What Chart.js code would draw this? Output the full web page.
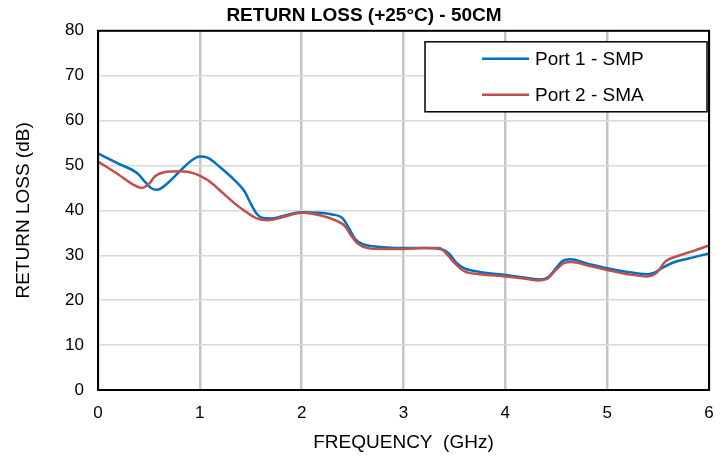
<!DOCTYPE html>
<html>
<head>
<meta charset="utf-8">
<script src="https://cdn.jsdelivr.net/npm/chart.js@4/dist/chart.umd.min.js"></script>
<style>
  html, body { margin: 0; padding: 0; background: #fff; }
  #wrap { width: 728px; height: 464px; }
</style>
</head>
<body>
<div id="wrap"><canvas id="rl"></canvas></div>
<script>
const xTicks = [0, 1, 2, 3, 4, 5, 6];
const yTicks = [0, 10, 20, 30, 40, 50, 60, 70, 80];

const port1Freq = [0, 0.2, 0.39, 0.46, 0.52, 0.58, 0.68, 0.79, 0.9, 1.0, 1.08, 1.2, 1.35, 1.44, 1.5, 1.56, 1.62, 1.7, 1.81, 2.0, 2.15, 2.3, 2.4, 2.47, 2.53, 2.6, 2.7, 3.0, 3.2, 3.38, 3.45, 3.52, 3.6, 3.75, 4.0, 4.2, 4.34, 4.42, 4.5, 4.56, 4.64, 4.8, 5.0, 5.2, 5.39, 5.47, 5.55, 5.65, 5.8, 6.0];
const port1RL = [52.7, 50.4, 48.2, 46.4, 45.0, 44.6, 46.0, 48.4, 50.8, 52.0, 51.7, 49.6, 46.5, 44.2, 41.5, 39.2, 38.3, 38.2, 38.7, 39.6, 39.5, 39.1, 38.3, 35.8, 33.5, 32.5, 32.0, 31.6, 31.6, 31.3, 30.3, 28.3, 27.1, 26.3, 25.6, 25.0, 24.6, 25.1, 27.2, 28.7, 29.1, 28.2, 27.1, 26.3, 25.8, 26.2, 27.3, 28.4, 29.3, 30.4];

const port2Freq = [0, 0.2, 0.35, 0.43, 0.5, 0.56, 0.65, 0.8, 0.95, 1.08, 1.23, 1.35, 1.44, 1.55, 1.67, 1.8, 2.0, 2.2, 2.35, 2.42, 2.48, 2.55, 2.65, 2.8, 3.0, 3.2, 3.35, 3.42, 3.5, 3.6, 3.75, 4.0, 4.2, 4.32, 4.42, 4.5, 4.58, 4.65, 4.8, 5.0, 5.2, 5.39, 5.49, 5.57, 5.7, 5.85, 6.0];
const port2RL = [50.9, 48.0, 45.7, 45.0, 45.9, 47.6, 48.5, 48.7, 48.2, 46.7, 43.8, 41.4, 39.9, 38.3, 37.8, 38.4, 39.5, 38.8, 37.6, 36.6, 34.6, 32.6, 31.6, 31.4, 31.4, 31.6, 31.6, 30.4, 28.3, 26.4, 25.8, 25.3, 24.8, 24.4, 24.9, 26.8, 28.3, 28.5, 27.8, 26.7, 25.8, 25.3, 26.2, 28.6, 29.9, 31.0, 32.2];

const seriesNames = ['Port 1 - SMP', 'Port 2 - SMA'];
const seriesColors = ['#0070c0', '#c0504d'];

const FONT = '"Liberation Sans", Arial, sans-serif';

function pts(xs, ys) {
    return xs.map((x, i) => ({ x: x, y: ys[i] }));
}

// frame round the plot area plus the boxed legend in the top right corner
const frameAndLegend = {
    id: 'frameAndLegend',
    afterDatasetsDraw(chart) {
        const ctx = chart.ctx;
        const a = chart.chartArea;
        ctx.save();
        ctx.strokeStyle = '#000';
        ctx.lineWidth = 2;
        ctx.strokeRect(a.left, a.top, a.right - a.left, a.bottom - a.top);

        const bx = a.right - 284, by = a.top + 11, bw = 282, bh = 70;
        ctx.fillStyle = '#fff';
        ctx.fillRect(bx, by, bw, bh);
        ctx.lineWidth = 1.5;
        ctx.strokeRect(bx, by, bw, bh);

        ctx.font = '19px ' + FONT;
        ctx.textBaseline = 'middle';
        ctx.textAlign = 'left';
        chart.data.datasets.forEach((ds, i) => {
            const ly = by + 17 + i * 36;
            ctx.strokeStyle = ds.borderColor;
            ctx.lineWidth = 2.5;
            ctx.beginPath();
            ctx.moveTo(bx + 57, ly);
            ctx.lineTo(bx + 104, ly);
            ctx.stroke();
            ctx.fillStyle = '#000';
            ctx.fillText(ds.label, bx + 110, ly + 1);
        });
        ctx.restore();
    }
};

new Chart(
    document.getElementById('rl'),
    {
        type: 'line',
        data: {
            datasets: [
                {
                    label: seriesNames[0],
                    data: pts(port1Freq, port1RL),
                    borderColor: seriesColors[0],
                    borderWidth: 2.5,
                    pointRadius: 0,
                    cubicInterpolationMode: 'monotone',
                    order: 1
                },
                {
                    label: seriesNames[1],
                    data: pts(port2Freq, port2RL),
                    borderColor: seriesColors[1],
                    borderWidth: 2.5,
                    pointRadius: 0,
                    cubicInterpolationMode: 'monotone',
                    order: 0
                }
            ]
        },
        options: {
            responsive: true,
            maintainAspectRatio: false,
            animation: false,
            layout: {
                padding: 0
            },
            plugins: {
                title: {
                    display: true,
                    text: 'RETURN LOSS (+25°C) - 50CM',
                    color: '#000',
                    font: { family: FONT, size: 19, weight: 'bold' },
                    padding: { top: 4, bottom: 4 }
                },
                legend: { display: false },
                tooltip: { enabled: false }
            },
            scales: {
                x: {
                    type: 'linear',
                    min: 0,
                    max: 6,
                    afterFit: s => { s.height = 74; },
                    afterBuildTicks: s => { s.ticks = xTicks.map(v => ({ value: v })); },
                    ticks: {
                        color: '#000',
                        padding: 13,
                        maxRotation: 0,
                        font: { family: FONT, size: 17 }
                    },
                    grid: {
                        color: '#c4c4c4',
                        lineWidth: 2.5,
                        drawTicks: false
                    },
                    border: { display: false },
                    title: {
                        display: true,
                        text: 'FREQUENCY  (GHz)',
                        color: '#000',
                        font: { family: FONT, size: 19 },
                        padding: { top: 10, bottom: 10 }
                    }
                },
                y: {
                    min: 0,
                    max: 80,
                    afterFit: s => { s.width = 98; },
                    afterBuildTicks: s => { s.ticks = yTicks.map(v => ({ value: v })); },
                    ticks: {
                        color: '#000',
                        padding: 14,
                        font: { family: FONT, size: 17 }
                    },
                    grid: {
                        color: '#d9d9d9',
                        lineWidth: 1.5,
                        drawTicks: false
                    },
                    border: { display: false },
                    title: {
                        display: true,
                        text: 'RETURN LOSS (dB)',
                        color: '#000',
                        font: { family: FONT, size: 19 },
                        padding: { top: 12, bottom: 0 }
                    }
                },
                // empty right-hand strip so the title stays centred on the page
                yRight: {
                    position: 'right',
                    min: 0,
                    max: 80,
                    afterFit: s => { s.width = 19; },
                    ticks: { display: false },
                    grid: { display: false, drawTicks: false },
                    border: { display: false }
                }
            }
        },
        plugins: [frameAndLegend]
    }
);
</script>
</body>
</html>
